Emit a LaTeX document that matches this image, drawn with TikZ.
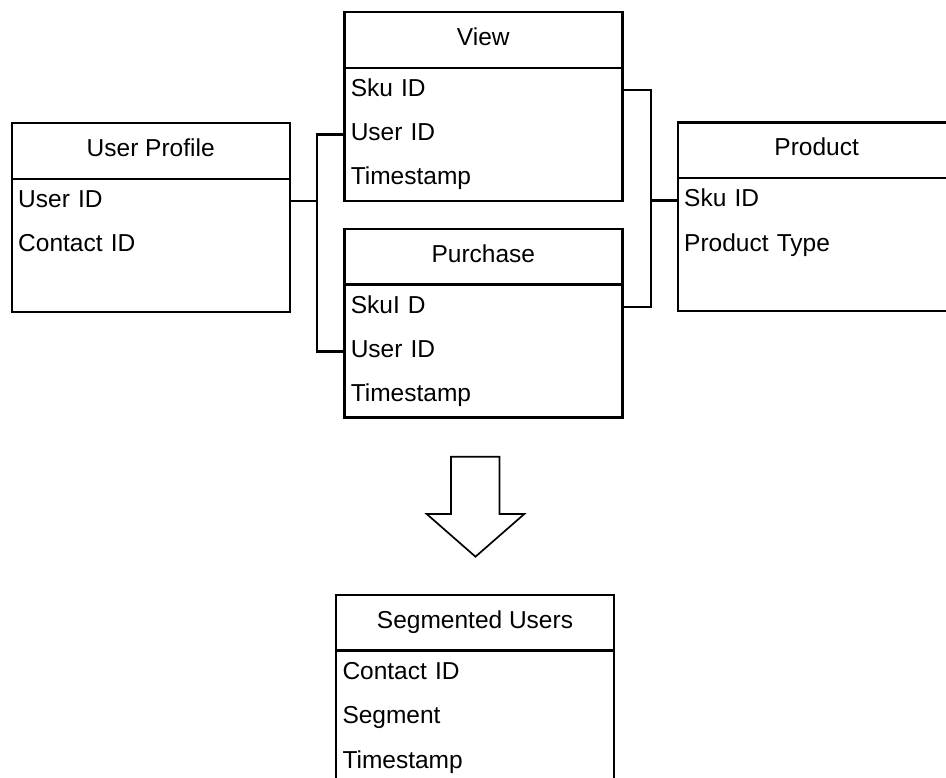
\documentclass[tikz,border=0pt]{standalone}
\usepackage{fontspec}
\setmainfont{Liberation Sans}
\begin{document}
\begin{tikzpicture}[x=1pt, y=-1pt,
  every node/.style={font=\fontsize{24.5}{29}\selectfont, text=black, outer sep=0pt},
  hdr/.style={draw, line width=2.4pt, fill=white, minimum width=278pt, minimum height=55.6pt,
              inner sep=0pt, text height=17.5pt, text depth=7pt, anchor=north west},
  body/.style={draw, line width=2.4pt, fill=white, minimum width=278pt, minimum height=133pt,
               inner sep=0pt, anchor=north},
  row/.style={inner xsep=6.5pt, inner ysep=0pt, text width=265pt, align=left,
              text height=18pt, text depth=5.8pt, anchor=west},
  link/.style={draw, line width=2.2pt},
  bigarrow/.style={draw, line width=1.7pt, fill=white, line join=miter}
]
\path[use as bounding box, clip] (0,0) rectangle (946,778);

% User Profile table
\node[hdr] (uph) at (11.7,123.3) {User Profile};
\node[body] (upb) at (uph.south) {};
\node[row] (upuid) at ([yshift=-22.3pt]upb.north west) {User ID};
\node[row] (upcid) at ([yshift=-44.4pt]upuid.west) {Contact ID};

% View table
\node[hdr] (vh) at (344.3,12.3) {View};
\node[body] (vb) at (vh.south) {};
\node[row] (vsku) at ([yshift=-22.5pt]vb.north west) {Sku ID};
\node[row] (vuid) at ([yshift=-44.2pt]vsku.west) {User ID};
\node[row] (vts) at ([yshift=-44.2pt]vuid.west) {Timestamp};

% Purchase table
\node[hdr] (ph) at (344.3,229) {Purchase};
\node[body] (pb) at (ph.south) {};
\node[row] (psku) at ([yshift=-22.8pt]pb.north west) {SkuI D};
\node[row] (puid) at ([yshift=-44.2pt]psku.west) {User ID};
\node[row] (pts) at ([yshift=-44.2pt]puid.west) {Timestamp};

% Product table
\node[hdr] (prh) at (677.7,122.7) {Product};
\node[body] (prb) at (prh.south) {};
\node[row] (prsku) at ([yshift=-22.3pt]prb.north west) {Sku ID};
\node[row] (prtype) at ([yshift=-44.6pt]prsku.west) {Product Type};

% Segmented Users table
\node[hdr] (sh) at (336,595) {Segmented Users};
\node[body] (sb) at (sh.south) {};
\node[row] (scid) at ([yshift=-22.3pt]sb.north west) {Contact ID};
\node[row] (sseg) at ([yshift=-44.6pt]scid.west) {Segment};
\node[row] (sts) at ([yshift=-44.6pt]sseg.west) {Timestamp};

% User ID joins
\coordinate (lj) at (316.7,0 |- upuid.east);
\path[link] (upuid.east) -- (lj);
\path[link] (vuid.west) -| (lj) |- (puid.west);

% Sku ID joins
\coordinate (rj) at (650.7,0 |- prsku.west);
\path[link] (prsku.west) -- (rj);
\path[link] (vsku.east) -| (rj) |- (psku.east);

% Downward block arrow
\path[bigarrow] (451,456.7) -- (499.5,456.7) -- (499.5,514) -- (524.3,514)
  -- (475.5,556.7) -- (426.7,514) -- (451,514) -- cycle;
\end{tikzpicture}
\end{document}
